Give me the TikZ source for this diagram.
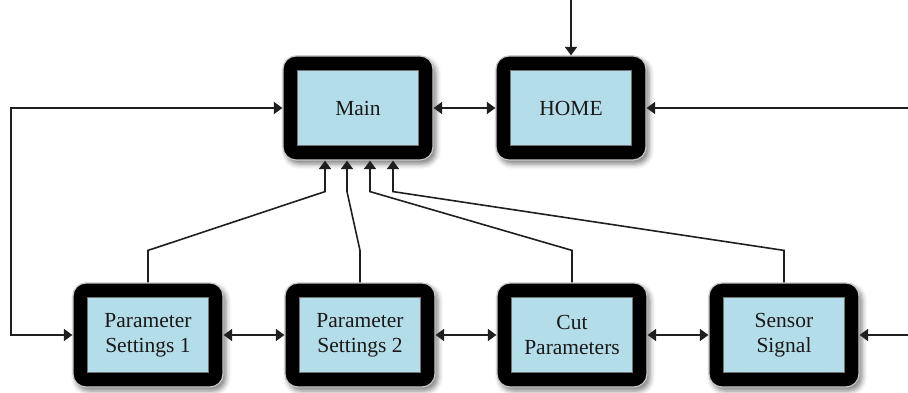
\documentclass[tikz,border=0pt]{standalone}
\usepackage{fontspec}
\setmainfont{Liberation Serif}
\usetikzlibrary{arrows.meta,calc,shadows.blur}
\definecolor{panel}{RGB}{180,221,234}
\tikzset{
  frame/.style={fill=black, draw=black!22, line width=1.2pt, rounded corners=13pt,
    minimum width=150pt, minimum height=104pt, inner sep=0pt,
    blur shadow={shadow xshift=3pt,shadow yshift=-4pt,shadow blur radius=5pt,shadow opacity=50}},
  screen/.style={fill=panel, draw=black!55, line width=0.8pt, minimum width=121pt,
    minimum height=75pt, inner sep=0pt, align=center,
    font=\fontsize{21.5}{25}\selectfont, text=black!90},
  tip/.tip={Triangle[length=8.5pt,width=12pt]},
  link/.style={line width=1.6pt, draw=black!88, -tip},
  dlink/.style={line width=1.6pt, draw=black!88, tip-tip}
}
% a screen: black rounded frame with a light blue panel holding the label
\newcommand\screenbox[3]{%
  \node[frame] (#1) at (#2) {};
  \node[screen] (#1-in) at (#2) {#3};
}
\begin{document}
\begin{tikzpicture}[x=1pt,y=-1pt]
\useasboundingbox (0,0) rectangle (908,393);

\screenbox{main}{358,108}{Main}
\screenbox{home}{571,108}{HOME}
\screenbox{ps1}{148,335}{Parameter\\Settings 1}
\screenbox{ps2}{360,335}{Parameter\\Settings 2}
\screenbox{cut}{572,335}{Cut\\Parameters}
\screenbox{sen}{784,335}{Sensor\\Signal}

\coordinate (topin) at (571,0);
\coordinate (lc) at (11,335);
\coordinate (rtop) at (908,108);
\coordinate (rbot) at (908,335);

% top-level links
\draw[link] (topin) -- (home.north);
\draw[dlink] (main.east) -- (home.west);
\draw[link] (rtop) -- (home.east);
\draw[dlink] (main.west) -| (lc) -- (ps1.west);

% chain of settings screens
\draw[dlink] (ps1.east) -- (ps2.west);
\draw[dlink] (ps2.east) -- (cut.west);
\draw[dlink] (cut.east) -- (sen.west);
\draw[link] (rbot) -- (sen.east);

% returns to the main screen
\draw[link] (ps1.north) -- ++(0,-32) -- ($(main.south)+(-33,31)$) -- ($(main.south)+(-33,0)$);
\draw[link] (ps2.north) -- ++(0,-32) -- ($(main.south)+(-11,31)$) -- ($(main.south)+(-11,0)$);
\draw[link] (cut.north) -- ++(0,-32) -- ($(main.south)+(12,31)$) -- ($(main.south)+(12,0)$);
\draw[link] (sen.north) -- ++(0,-32) -- ($(main.south)+(35,31)$) -- ($(main.south)+(35,0)$);
\end{tikzpicture}
\end{document}
